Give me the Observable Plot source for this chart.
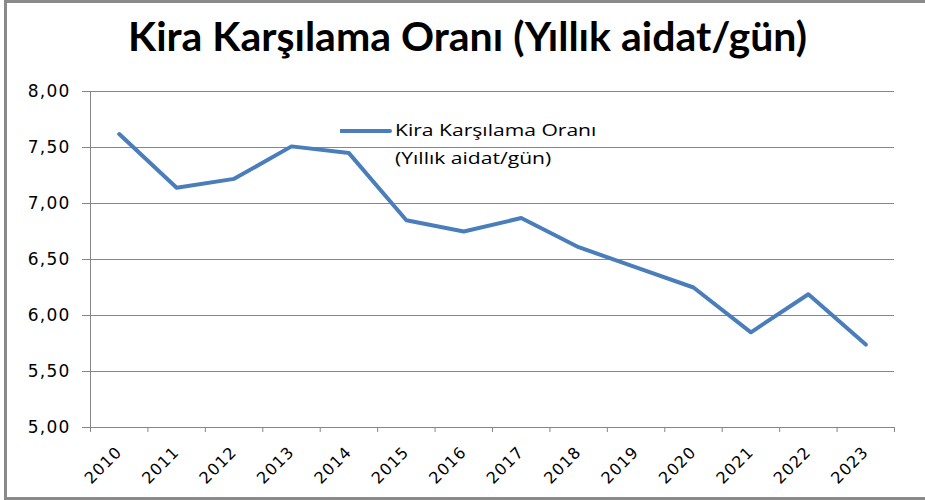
<!DOCTYPE html>
<html>
<head>
<meta charset="utf-8">
<script src="https://cdn.jsdelivr.net/npm/d3@7"></script>
<script src="https://cdn.jsdelivr.net/npm/@observablehq/plot@0.6"></script>
<style>
  html, body { margin: 0; padding: 0; background: #fff; }
  #wrap { position: relative; width: 925px; height: 500px; overflow: hidden; }
  #frame { position: absolute; left: 4px; top: 0px; width: 940px; height: 500px; border: 3px solid #8a8a8a; box-sizing: border-box; }
  #title { position: absolute; left: 0; top: 12px; width: 935px; text-align: center; font-family: Lato, sans-serif; font-weight: bold; font-size: 41px; line-height: 48px; color: #000; }
  #chart { position: absolute; left: 0; top: 75px; }
  #legend { position: absolute; left: 340px; top: 116px; font-family: "Open Sans", sans-serif; font-size: 17px; line-height: 28px; color: #000; }
  #legend svg { position: absolute; left: 0; top: 12px; }
  #legend .txt { position: absolute; left: 55px; top: 0; white-space: nowrap; transform: scaleX(1.24); transform-origin: 0 0; }
</style>
</head>
<body>
<div id="wrap">
  <div id="frame"></div>
  <div id="title"></div>
  <div id="chart"></div>
  <div id="legend"></div>
</div>
<script>
const titleText = "Kira Karşılama Oranı (Yıllık aidat/gün)";
const seriesName = ["Kira Karşılama Oranı", "(Yıllık aidat/gün)"];
const years = [2010, 2011, 2012, 2013, 2014, 2015, 2016, 2017, 2018, 2019, 2020, 2021, 2022, 2023];
const values = [7.62, 7.14, 7.22, 7.51, 7.45, 6.85, 6.75, 6.87, 6.61, 6.43, 6.25, 5.85, 6.19, 5.74];
const yTicks = [5.0, 5.5, 6.0, 6.5, 7.0, 7.5, 8.0];
const lineColor = "#4a7ebb";
const gridColor = "#868686";

const data = years.map((y, i) => ({year: y, value: values[i]}));
const xDomain = [years[0] - 0.5, years[years.length - 1] + 0.5];
const bounds = years.map(y => y - 0.5).concat([years[years.length - 1] + 0.5]);
const fmt = d => d.toFixed(2).replace(".", ",");

document.getElementById("title").textContent = titleText;

const chart = Plot.plot({
  width: 925,
  height: 425,
  marginTop: 16,
  marginBottom: 73,
  marginLeft: 90,
  marginRight: 31,
  style: {background: "transparent", overflow: "visible"},
  x: {domain: xDomain},
  y: {domain: [yTicks[0], yTicks[yTicks.length - 1]]},
  marks: [
    Plot.gridY(yTicks, {stroke: gridColor, strokeOpacity: 1, strokeWidth: 1}),
    Plot.ruleX([xDomain[0]], {stroke: gridColor, strokeWidth: 1}),
    Plot.axisY(yTicks, {label: null, tickSize: 8, tickPadding: 12, tickFormat: fmt, stroke: gridColor, fill: "#000", fontSize: 17, fontFamily: "DejaVu Sans"}),
    Plot.axisX(bounds, {label: null, tickSize: 5, tickFormat: () => "", stroke: gridColor}),
    Plot.axisX(years, {label: null, tickSize: 0, tickPadding: 22, tickRotate: -45, tickFormat: d => String(d), fill: "#000", fontSize: 16, fontFamily: "DejaVu Sans"}),
    Plot.line(data, {x: "year", y: "value", stroke: lineColor, strokeWidth: 4, strokeLinejoin: "round", strokeLinecap: "round"})
  ]
});
d3.select(chart).selectAll('[aria-label="y-axis tick label"] text').attr("letter-spacing", "1.2px");
d3.select(chart).selectAll('[aria-label="x-axis tick label"] text').attr("letter-spacing", "1px");
document.getElementById("chart").appendChild(chart);

const legend = document.getElementById("legend");
const ns = "http://www.w3.org/2000/svg";
const ls = document.createElementNS(ns, "svg");
ls.setAttribute("width", 52); ls.setAttribute("height", 6);
const ln = document.createElementNS(ns, "line");
ln.setAttribute("x1", 1); ln.setAttribute("x2", 50); ln.setAttribute("y1", 3); ln.setAttribute("y2", 3);
ln.setAttribute("stroke", lineColor); ln.setAttribute("stroke-width", 4); ln.setAttribute("stroke-linecap", "round");
ls.appendChild(ln);
legend.appendChild(ls);
const txt = document.createElement("div");
txt.className = "txt";
txt.innerHTML = seriesName.join("<br>");
legend.appendChild(txt);
</script>
</body>
</html>
